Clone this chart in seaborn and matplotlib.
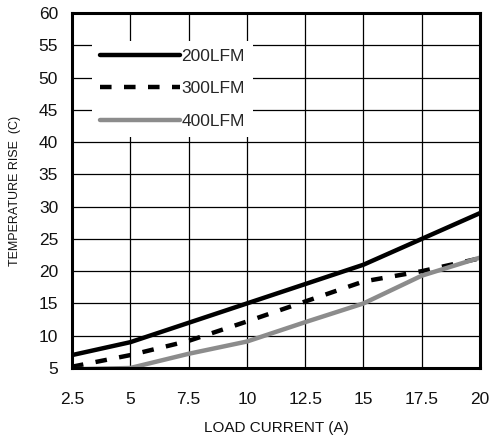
import pandas as pd
import matplotlib.pyplot as plt
import seaborn as sns

# === Data ===
load_current = [2.5, 5, 7.5, 10, 12.5, 15, 17.5, 20]
rise_200lfm = [7, 9, 12, 15, 18, 21, 25, 29]
rise_300lfm = [5.2, 7, 9.2, 12.2, 15.3, 18.4, 20, 22]
rise_400lfm = [4.8, 5, 7.2, 9.1, 12.1, 15, 19.3, 22.1]
series_names = ['200LFM', '300LFM', '400LFM']

df = pd.DataFrame({
    'current': load_current * 3,
    'rise': rise_200lfm + rise_300lfm + rise_400lfm,
    'airflow': [n for n in series_names for _ in load_current],
})

# === Style ===
sns.set_theme(style="white")
plt.rcParams['font.family'] = ['Liberation Sans', 'DejaVu Sans']

fig = plt.figure(figsize=(4.9, 4.44), dpi=100)
ax = fig.add_axes([72 / 490, 76 / 444, 408 / 490, 355 / 444])

palette = {'200LFM': 'black', '300LFM': 'black', '400LFM': '#8c8c8c'}
sns.lineplot(data=df, x='current', y='rise', hue='airflow', palette=palette,
             linewidth=3.2, ax=ax, legend=True, zorder=3)
ax.lines[1].set_dashes((2.6, 2.8))

ax.set_xlim(2.5, 20)
ax.set_ylim(5, 60)
ax.set_xticks(load_current)
ax.set_xticklabels(['2.5', '5', '7.5', '10', '12.5', '15', '17.5', '20'])
ax.set_yticks(range(5, 61, 5))
ax.grid(True, color='black', linewidth=0.9, zorder=1)
ax.set_axisbelow(True)
for spine in ax.spines.values():
    spine.set_color('black')
    spine.set_linewidth(2.2)
    spine.set_zorder(4)
ax.tick_params(axis='both', direction='out', length=5, width=0.9, color='black',
               labelsize=12.5, labelcolor='#111111', pad=5)
ax.tick_params(axis='x', pad=12)
ax.set_xlabel("LOAD CURRENT (A)", fontsize=11, labelpad=10, color='#111111')
ax.set_ylabel("TEMPERATURE RISE  (C)", fontsize=9, labelpad=13, color='#111111')

# Legend with white box that hides the grid
handles, labels = ax.get_legend_handles_labels()
leg = ax.legend(handles, labels, loc='upper left', bbox_to_anchor=(20 / 408, 1 - 28 / 355),
                frameon=True, facecolor='white', edgecolor='none', framealpha=1,
                fancybox=False, fontsize=12.5, handlelength=4.6, handletextpad=0.1,
                labelspacing=1.0, borderpad=0.45, borderaxespad=0)
leg.set_zorder(5)
for line in leg.get_lines():
    line.set_linewidth(3.2)
leg.get_lines()[1].set_dashes((2.6, 2.8))

plt.savefig("out.png", dpi=100)
